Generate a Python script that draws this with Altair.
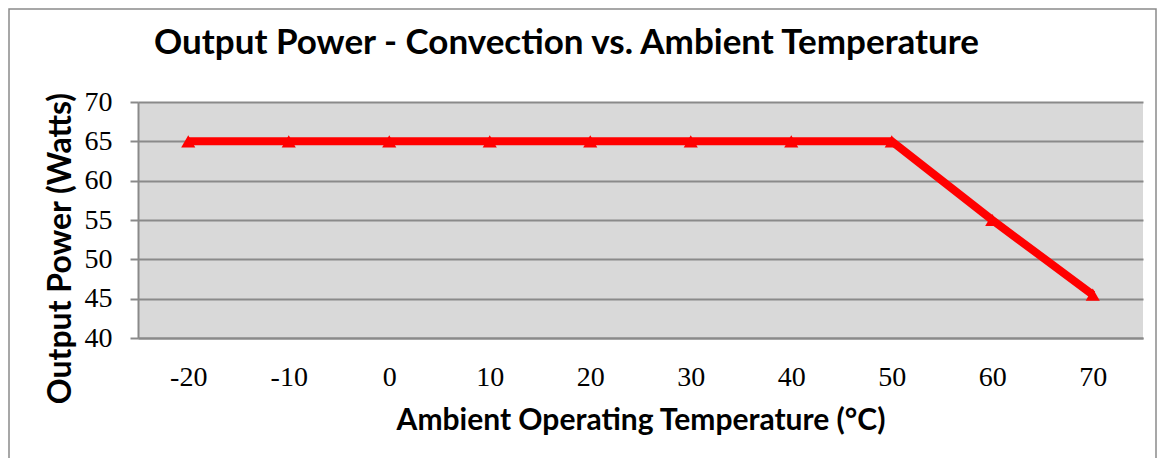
import altair as alt
import pandas as pd

temps = [-20, -10, 0, 10, 20, 30, 40, 50, 60, 70]
power = [65, 65, 65, 65, 65, 65, 65, 65, 55, 45.5]
y_ticks = [40, 45, 50, 55, 60, 65, 70]

df = pd.DataFrame({"temp": temps, "power": power})

GRID = "#8a8a8a"
SANS = "Lato"
SERIF = "Liberation Serif"

xenc = alt.X(
    "temp:O",
    sort=temps,
    scale=alt.Scale(type="point", padding=0.5),
    axis=alt.Axis(
        title="Ambient Operating Temperature (°C)",
        titleFont=SANS, titleFontSize=30, titleFontWeight="bold", titleColor="#000",
        titleY=82, titleBaseline="middle",
        labelAngle=0, labelFont=SERIF, labelFontSize=28, labelColor="#000",
        labelPadding=25, labelBaseline="top",
        ticks=False, grid=False, domain=True, domainColor=GRID, domainWidth=2,
    ),
)
yenc = alt.Y(
    "power:Q",
    scale=alt.Scale(domain=[40, 70], nice=False, zero=False),
    axis=alt.Axis(
        values=y_ticks,
        title="Output Power (Watts)",
        titleFont=SANS, titleFontSize=32, titleFontWeight="bold", titleColor="#000",
        titleX=-78, titleY=146, titleBaseline="middle", titleAlign="center",
        labelFont=SERIF, labelFontSize=28, labelColor="#000", labelPadding=18,
        tickSize=8, tickColor=GRID, tickWidth=2,
        grid=True, gridColor=GRID, gridWidth=2,
        domain=True, domainColor=GRID, domainWidth=2,
    ),
)

border = alt.Chart(pd.DataFrame({"a": [0]})).mark_rect(
    filled=False, stroke="#8a8a8a", strokeWidth=1.5
).encode(
    x=alt.value(-129), x2=alt.value(1018), y=alt.value(-93), y2=alt.value(370)
)

base = alt.Chart(df).encode(x=xenc, y=yenc)
line = base.mark_line(color="#ff0000", strokeWidth=8)
pts = base.mark_point(shape="triangle-up", filled=True, size=200, color="#ff0000", opacity=1)

chart = alt.layer(border, line, pts).properties(
    width=1005,
    height=236,
    autosize=alt.AutoSizeParams(type="none"),
    padding={"left": 130, "top": 94, "right": 14, "bottom": 120},
    background="white",
    title=alt.TitleParams(
        text="Output Power - Convection vs. Ambient Temperature",
        font=SANS, fontSize=35, fontWeight="bold", color="#000",
        anchor="middle", dx=-74, dy=81, frame="group", offset=0, baseline="alphabetic",
    ),
).configure_view(stroke=None, fill="#d9d9d9")

chart.save("out.html", embed_options={"renderer": "svg", "actions": False})
